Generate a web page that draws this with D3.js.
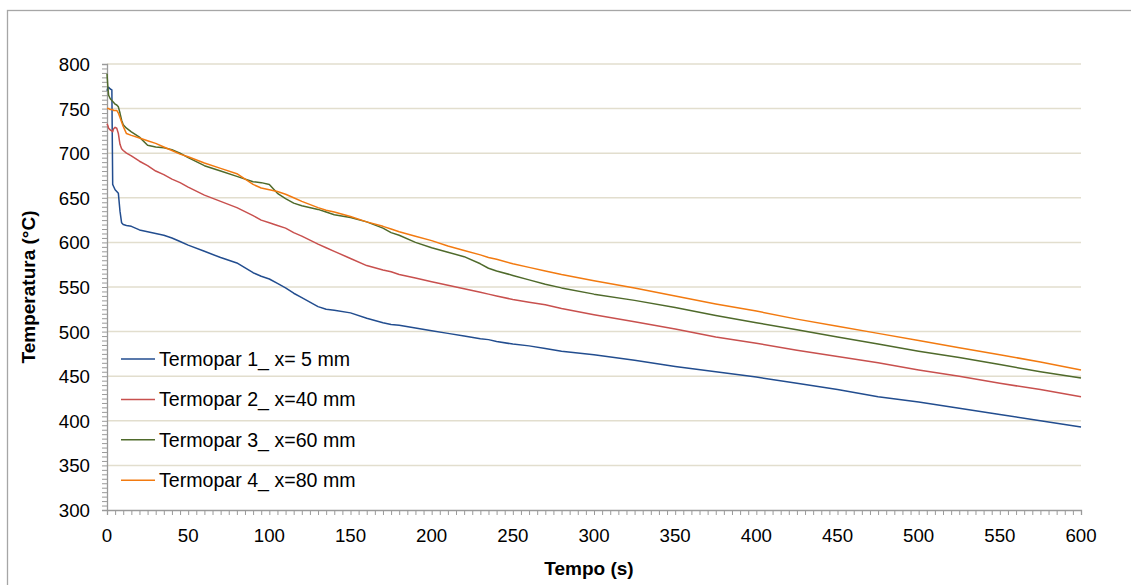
<!DOCTYPE html>
<html>
<head>
<meta charset="utf-8">
<script src="https://cdn.jsdelivr.net/npm/d3@7/dist/d3.min.js"></script>
<style>
    body { margin: 0; background: #fff; }
    #graph { width: 1131px; height: 585px; overflow: hidden; }
    .tick-label { font-family: "Liberation Sans", Arial, sans-serif; font-size: 18.7px; fill: #000; }
    .legend-label { font-family: "Liberation Sans", Arial, sans-serif; font-size: 19.6px; fill: #000; }
    .axis-title { font-family: "Liberation Sans", Arial, sans-serif; font-size: 19px; font-weight: bold; fill: #000; }
    .line { fill: none; stroke-width: 1.5px; stroke-linejoin: round; }
</style>
</head>
<body>
<div id="graph"></div>
<script>
// Time (s), shared by every series
var tempo = [0, 0.5, 1, 2, 3, 3.5, 4, 5, 6, 7, 8, 9, 10, 12, 15, 20, 25, 30, 35, 40, 45, 50,
    60, 70, 80, 90, 95, 100, 105, 110, 115, 120, 130, 135, 140, 150, 160, 170, 175, 180,
    190, 200, 210, 220, 230, 235, 240, 250, 260, 270, 280, 300, 325, 350, 375, 400,
    425, 450, 475, 500, 525, 550, 575, 600];

// Temperatures (°C) for each thermocouple
var termopar1 = [770, 773, 774, 772, 771, 665, 663, 659, 657, 655, 635, 622, 620, 619, 618, 614, 612, 610, 608, 605, 601, 597,
    590, 583, 577, 566, 562, 559, 554, 549, 543, 538, 528, 525, 524, 521, 515, 510, 508, 507,
    504, 501, 498, 495, 492, 491, 489, 486, 484, 481, 478, 474, 468, 461, 455, 449,
    442, 435, 427, 421, 414, 407, 400, 393];

var termopar2 = [733, 731, 728, 726, 725, 724, 727, 729, 728, 722, 710, 705, 703, 700, 697, 691, 686, 680, 676, 671, 667, 662,
    653, 646, 639, 630, 625, 622, 619, 616, 611, 607, 598, 594, 590, 582, 574, 569, 567, 564,
    560, 556, 552, 548, 544, 542, 540, 536, 533, 530, 526, 519, 511, 503, 494, 487,
    479, 472, 465, 457, 450, 442, 435, 427];

var termopar3 = [789, 775, 765, 761, 759, 758, 757, 755, 754, 752, 745, 737, 732, 728, 724, 718, 709, 707, 706, 704, 700, 695,
    686, 680, 674, 668, 667, 665, 655, 649, 644, 641, 637, 634, 631, 628, 623, 616, 611, 608,
    600, 594, 589, 584, 576, 571, 568, 563, 558, 553, 549, 542, 535, 527, 518, 510,
    502, 494, 486, 478, 471, 463, 455, 448];

var termopar4 = [750, 750, 750, 749, 749, 749, 748, 748, 748, 745, 740, 735, 730, 722, 720, 717, 714, 711, 707, 703, 699, 696,
    689, 683, 677, 665, 661, 659, 657, 654, 650, 646, 639, 636, 634, 629, 623, 618, 615, 612,
    607, 602, 596, 591, 586, 583, 581, 576, 572, 568, 564, 557, 549, 540, 531, 523,
    514, 506, 498, 490, 482, 474, 466, 457];

var seriesNames = ["Termopar 1_ x= 5 mm", "Termopar 2_ x=40 mm", "Termopar 3_ x=60 mm", "Termopar 4_ x=80 mm"];
var seriesValues = [termopar1, termopar2, termopar3, termopar4];
var seriesColors = ["#224d8f", "#c8504e", "#4f6a2b", "#f27a10"];

var xTicks = d3.range(0, 601, 50);
var yTicks = d3.range(300, 801, 50);

// Plot area
var margin = { top: 64, right: 50, bottom: 75, left: 107 },
    width = 1081 - margin.left,
    height = 510 - margin.top;

var x = d3.scaleLinear().domain([0, 600]).range([0, width]),
    y = d3.scaleLinear().domain([300, 800]).range([height, 0]);

var svg = d3.select("#graph").append("svg")
    .attr("width", 1131)
    .attr("height", 585);

// Outer chart border (continues past the right and bottom edges)
svg.append("rect")
    .attr("x", 7.5)
    .attr("y", 10.5)
    .attr("width", 1300)
    .attr("height", 800)
    .attr("fill", "none")
    .attr("stroke", "#a6a6a6")
    .attr("stroke-width", 1.3);

var g = svg.append("g")
    .attr("transform", "translate(" + margin.left + "," + margin.top + ")");

// Horizontal gridlines
g.selectAll(".grid")
    .data(yTicks.filter(function (d) { return d > 300; }))
    .enter().append("line")
    .attr("class", "grid")
    .attr("x1", 0)
    .attr("x2", width)
    .attr("y1", function (d) { return y(d); })
    .attr("y2", function (d) { return y(d); })
    .attr("stroke", "#e2dece")
    .attr("stroke-width", 1.5);

// Y axis with minor ticks every 5
var yAxis = g.append("g")
    .call(d3.axisLeft(y).tickValues(d3.range(300, 801, 5)).tickSize(5).tickFormat(""));
yAxis.select(".domain").attr("stroke", "#9a9a9a").attr("stroke-width", 1.3);
yAxis.selectAll(".tick line").attr("stroke", "#9a9a9a");

// X axis with minor ticks every 5
var xAxis = g.append("g")
    .attr("transform", "translate(0," + height + ")")
    .call(d3.axisBottom(x).tickValues(d3.range(0, 601, 5)).tickSize(5).tickFormat(""));
xAxis.select(".domain").attr("stroke", "#9a9a9a").attr("stroke-width", 1.3);
xAxis.selectAll(".tick line").attr("stroke", "#9a9a9a");

// Tick labels
g.selectAll(".ylabel")
    .data(yTicks)
    .enter().append("text")
    .attr("class", "tick-label")
    .attr("x", -17)
    .attr("y", function (d) { return y(d) + 7; })
    .attr("text-anchor", "end")
    .text(function (d) { return d; });

g.selectAll(".xlabel")
    .data(xTicks)
    .enter().append("text")
    .attr("class", "tick-label")
    .attr("x", function (d) { return x(d); })
    .attr("y", height + 32)
    .attr("text-anchor", "middle")
    .text(function (d) { return d; });

// Lines
var valueline = d3.line()
    .x(function (d, i) { return x(tempo[i]); })
    .y(function (d) { return y(d); });

seriesValues.forEach(function (vals, k) {
    g.append("path")
        .datum(vals)
        .attr("class", "line")
        .attr("stroke", seriesColors[k])
        .attr("d", valueline);
});

// Legend
var legend = g.selectAll(".legend")
    .data(seriesNames)
    .enter().append("g")
    .attr("transform", function (d, i) { return "translate(14," + (295 + i * 40.4) + ")"; });

legend.append("line")
    .attr("x1", 0)
    .attr("x2", 34)
    .attr("stroke", function (d, i) { return seriesColors[i]; })
    .attr("stroke-width", 1.5);

legend.append("text")
    .attr("class", "legend-label")
    .attr("x", 38)
    .attr("y", 7)
    .text(function (d) { return d; });

// Axis titles
svg.append("text")
    .attr("class", "axis-title")
    .attr("x", 589)
    .attr("y", 575)
    .attr("text-anchor", "middle")
    .text("Tempo (s)");

svg.append("text")
    .attr("class", "axis-title")
    .attr("transform", "translate(35,287) rotate(-90)")
    .attr("text-anchor", "middle")
    .text("Temperatura (°C)");
</script>
</body>
</html>
